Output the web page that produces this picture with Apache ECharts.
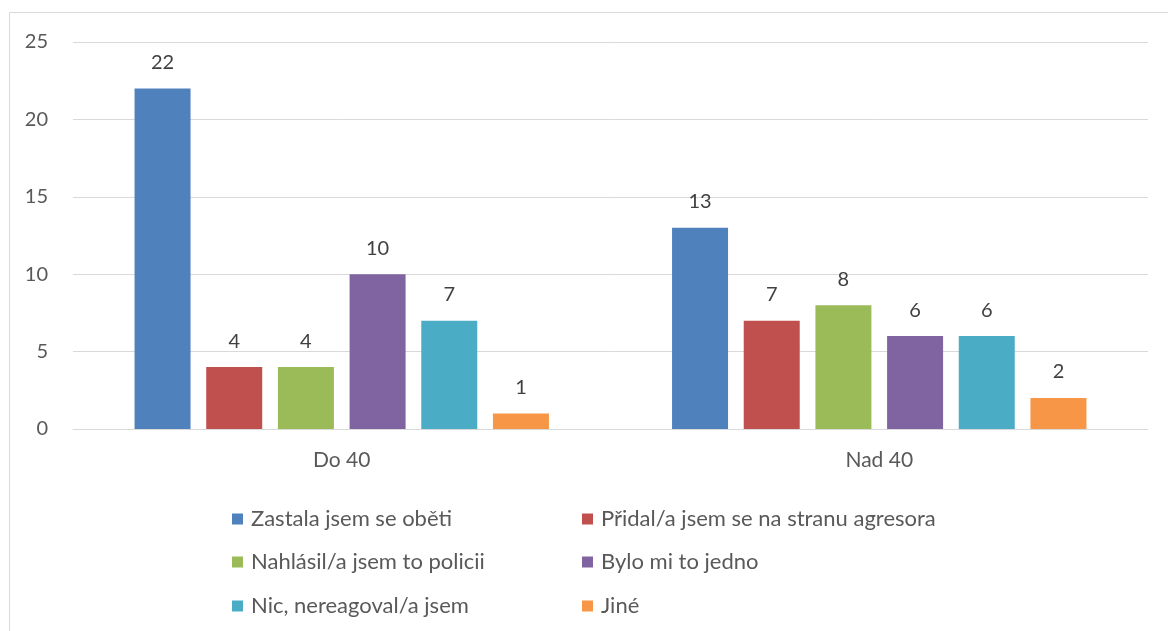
<!DOCTYPE html>
<html>
<head>
<meta charset="utf-8">
<script src="https://cdn.jsdelivr.net/npm/echarts@6/dist/echarts.min.js"></script>
<style>
* { margin: 0; padding: 0; }
#chart { width: 1168px; height: 631px; background: #fff; }
</style>
</head>
<body>
<div id="chart"></div>
<script>
var categories = ['Do 40', 'Nad 40'];
var seriesNames = [
  'Zastala jsem se oběti',
  'Přidal/a jsem se na stranu agresora',
  'Nahlásil/a jsem to policii',
  'Bylo mi to jedno',
  'Nic, nereagoval/a jsem',
  'Jiné'
];
var zastala = [22, 13];
var pridal = [4, 7];
var nahlasil = [4, 8];
var jedno = [10, 6];
var nic = [7, 6];
var jine = [1, 2];
var yTicks = [0, 5, 10, 15, 20, 25];

var values = [zastala, pridal, nahlasil, jedno, nic, jine];
var colors = ['#4f81bd', '#c0504d', '#9bbb59', '#8064a2', '#4bacc6', '#f79646'];
var font = 'Lato';
var fs = 20;

var series = [];
for (var i = 0; i < values.length; i++) {
  series.push({
    name: seriesNames[i],
    type: 'bar',
    data: values[i],
    barWidth: 56,
    barGap: '28%',
    itemStyle: { color: colors[i] },
    label: {
      show: true,
      position: 'top',
      distance: 16,
      fontFamily: font,
      fontSize: fs,
      color: '#404040'
    }
  });
}

// one legend per item, 2 columns x 3 rows
var legends = [];
var rowTops = [503, 546, 590];
var colLefts = [227, 577];
for (var k = 0; k < seriesNames.length; k++) {
  legends.push({
    left: colLefts[k % 2],
    top: rowTops[Math.floor(k / 2)],
    itemWidth: 11,
    itemHeight: 11,
    icon: 'rect',
    data: [seriesNames[k]],
    textStyle: { fontFamily: font, fontSize: 22, color: '#595959', padding: [0, 0, 0, 3] }
  });
}

var myChart = echarts.init(document.getElementById('chart'));
myChart.setOption({
  animation: false,
  color: colors,
  graphic: [{
    type: 'rect',
    shape: { x: 9.5, y: 12.5, width: 1200, height: 700 },
    style: { fill: null, stroke: '#d9d9d9', lineWidth: 1 },
    silent: true
  }],
  grid: { left: 73, right: 20, top: 42, bottom: 202 },
  legend: legends,
  xAxis: {
    type: 'category',
    data: categories,
    axisTick: { show: false },
    axisLine: { lineStyle: { color: '#d9d9d9', width: 1 } },
    axisLabel: { fontFamily: font, fontSize: 21, color: '#595959', margin: 21 }
  },
  yAxis: {
    type: 'value',
    min: yTicks[0],
    max: yTicks[yTicks.length - 1],
    interval: 5,
    axisLine: { show: false },
    axisTick: { show: false },
    splitLine: { lineStyle: { color: '#d9d9d9', width: 1 } },
    axisLabel: { fontFamily: font, fontSize: fs, color: '#595959', margin: 25 }
  },
  series: series
});
</script>
</body>
</html>
